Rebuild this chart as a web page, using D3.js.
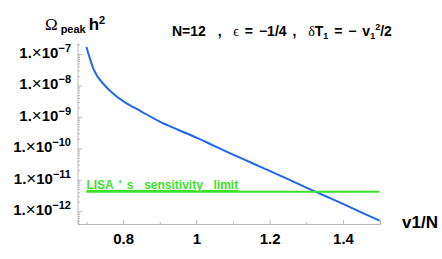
<!DOCTYPE html>
<html>
<head>
<meta charset="utf-8">
<script src="https://cdn.jsdelivr.net/npm/d3@7"></script>
<style>
  body { margin: 0; background: #fff; }
  text { font-family: "Liberation Sans", Arial, sans-serif; font-weight: bold; fill: #000; }
</style>
</head>
<body>
<div id="chart"></div>
<script>
// values
var v1N = [0.70, 0.72, 0.75, 0.775, 0.80, 0.85, 0.90, 0.95, 1.00, 1.05, 1.10, 1.15, 1.20, 1.25, 1.30, 1.35, 1.40, 1.45, 1.50];
var logOmega = [-6.78, -7.50, -8.00, -8.28, -8.50, -8.83, -9.15, -9.41, -9.66, -9.93, -10.20, -10.46, -10.72, -10.98, -11.25, -11.51, -11.77, -12.04, -12.30];
var lisaLimit = 4.1e-12;
var xTicks = [0.8, 1, 1.2, 1.4];
var xMinor = [0.7, 0.9, 1.1, 1.3, 1.5];
var yTicks = [1e-7, 1e-8, 1e-9, 1e-10, 1e-11, 1e-12];
var yExp = ["-7", "-8", "-9", "-10", "-11", "-12"];

var width = 442, height = 259;
var margin = {top: 43, right: 62, bottom: 35, left: 78};

var svg = d3.select("#chart").append("svg")
  .attr("width", width)
  .attr("height", height);

var x = d3.scaleLinear()
  .domain([0.677, 1.501])
  .range([margin.left, width - margin.right]);

var y = d3.scaleLog()
  .domain([Math.pow(10, -12.41), Math.pow(10, -6.65)])
  .range([height - margin.bottom, margin.top]);

// minor log ticks on y
var yMinor = [];
for (var e = -13; e <= -7; e++) {
  for (var k = 2; k <= 9; k++) {
    var v = k * Math.pow(10, e);
    if (v > y.domain()[0] && v < y.domain()[1]) yMinor.push(v);
  }
}

var axisColor = "#bbb";

var yMinorAxis = svg.append("g")
  .attr("transform", "translate(" + margin.left + ",0)")
  .call(d3.axisLeft(y).tickValues(yMinor).tickSize(-2).tickFormat(""));
var yAxis = svg.append("g")
  .attr("transform", "translate(" + margin.left + ",0)")
  .call(d3.axisLeft(y).tickValues(yTicks).tickSize(-4).tickFormat(""));

var xMinorAxis = svg.append("g")
  .attr("transform", "translate(0," + (height - margin.bottom) + ")")
  .call(d3.axisBottom(x).tickValues(xMinor).tickSize(-2).tickFormat(""));
var xAxis = svg.append("g")
  .attr("transform", "translate(0," + (height - margin.bottom) + ")")
  .call(d3.axisBottom(x).tickValues(xTicks).tickSize(-4).tickFormat(d3.format("")));

svg.selectAll(".domain, .tick line").attr("stroke", axisColor);
yMinorAxis.select(".domain").remove();
xMinorAxis.select(".domain").remove();
yAxis.select(".domain").attr("d", "M0," + margin.top + "V" + (height - margin.bottom));

xAxis.selectAll("text")
  .attr("dy", null)
  .attr("y", 20)
  .style("font-size", "15px")
  .style("font-family", "'Liberation Sans', Arial, sans-serif")
  .style("font-weight", "bold")
  .attr("fill", "#000");

// y tick labels: 1.×10^n
var yl = svg.append("g").selectAll("text")
  .data(yTicks)
  .enter()
  .append("text")
  .attr("x", margin.left - 7)
  .attr("y", function(d){ return y(d) + 4; })
  .attr("text-anchor", "end")
  .style("font-size", "15px");
yl.append("tspan").text("1.");
yl.append("tspan").text("\u00d7").style("font-weight", "normal").style("font-size", "17px");
yl.append("tspan").text("10");
yl.append("tspan")
  .attr("dy", -6)
  .style("font-size", "11px")
  .text(function(d, i){ return "\u2212" + yExp[i].slice(1); });

// curve
var data = v1N.map(function(d, i){ return {x: d, y: Math.pow(10, logOmega[i])}; });

var line = d3.line()
  .curve(d3.curveMonotoneX)
  .x(function(d){ return x(d.x); })
  .y(function(d){ return y(d.y); });

svg.append("path")
  .datum(data)
  .attr("d", line)
  .style("fill", "none")
  .style("stroke", "#1f66e8")
  .style("stroke-width", 2);

// LISA limit
svg.append("line")
  .attr("x1", x(0.7))
  .attr("x2", x(1.5))
  .attr("y1", y(lisaLimit))
  .attr("y2", y(lisaLimit))
  .style("stroke", "#3fe02a")
  .style("stroke-width", 2);

svg.append("text")
  .attr("x", x(0.7))
  .attr("y", y(lisaLimit) - 3)
  .style("fill", "#3fe02a")
  .style("font-size", "12px")
  .attr("text-decoration", "underline")
  .style("word-spacing", "2px")
  .text("LISA ' s  sensitivity  limit")
  .attr("xml:space", "preserve");

// axis title on x
svg.append("text")
  .attr("x", 402)
  .attr("y", 228)
  .style("font-size", "17px")
  .text("v1/N");

// y title
var yt = svg.append("text")
  .attr("x", 45)
  .attr("y", 30)
  .style("font-size", "17px");
yt.append("tspan").text("\u03a9").style("font-family", "'Liberation Serif', serif").style("font-weight", "normal");
yt.append("tspan").attr("dx", 3).attr("dy", 3).style("font-size", "11px").text("peak");
yt.append("tspan").attr("dx", 3).attr("dy", -3).text("h");
yt.append("tspan").attr("dy", -6).style("font-size", "11px").text("2");

// subtitle
var st = svg.append("text")
  .attr("x", 172)
  .attr("y", 36)
  .attr("xml:space", "preserve")
  .style("font-size", "14px")
  .style("word-spacing", "2px");
st.append("tspan").text("N=12  ,  ");
st.append("tspan").style("font-family", "'Liberation Serif', serif").style("font-weight", "normal").text("\u03f5");
st.append("tspan").text(" = \u22121/4 ,  ");
st.append("tspan").style("font-family", "'Liberation Serif', serif").style("font-weight", "normal").text("\u03b4");
st.append("tspan").text("T");
st.append("tspan").attr("dy", 3).style("font-size", "9px").text("1");
st.append("tspan").attr("dy", -3).text(" = \u2212 v");
st.append("tspan").attr("dy", 3).style("font-size", "9px").text("1");
st.append("tspan").attr("dy", -9).style("font-size", "9px").text("2");
st.append("tspan").attr("dy", 6).text("/2");
</script>
</body>
</html>
